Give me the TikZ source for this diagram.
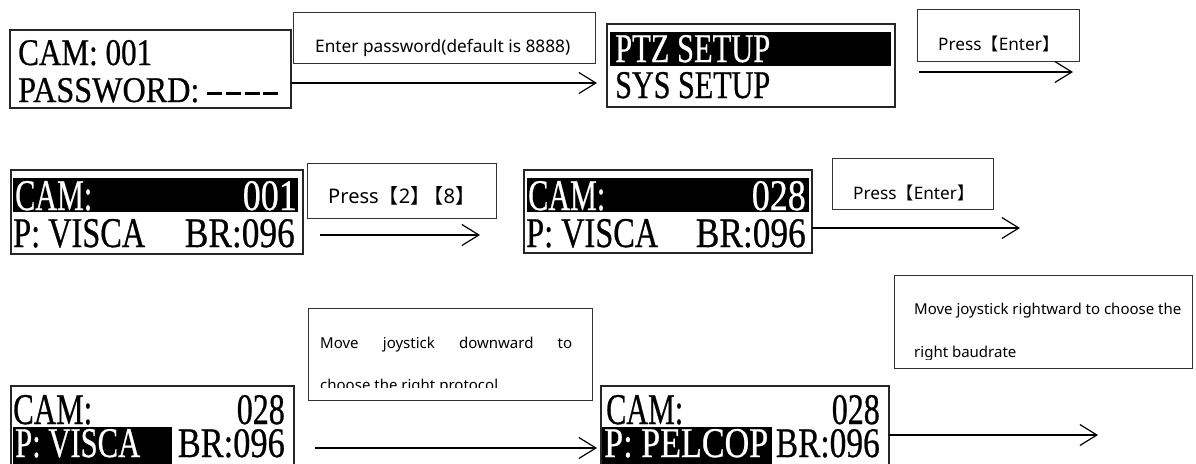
\documentclass[tikz,border=0pt]{standalone}
\usepackage{fontspec}
\usepackage{graphicx}
\usetikzlibrary{arrows.meta}
\setmainfont{Noto Sans}
\newfontfamily\lcdfont[FakeBold=0.7]{Liberation Serif}
\newfontfamily\cjk{Noto Sans CJK SC}
\newcommand{\lcdtxt}[3]{\resizebox{#1pt}{#2pt}{\lcdfont #3}}
\newcommand{\fitw}[2]{\resizebox{#1pt}{!}{#2}}
\newcommand{\lcddash}{\rule[0.2em]{0.46em}{0.07em}}
\begin{document}
\begin{tikzpicture}[x=1pt,y=-1pt,
  lcdbox/.style={draw=black!85, line width=2.4pt, fill=white, anchor=north west, inner sep=0pt, outer sep=0pt},
  hl/.style={fill=black, anchor=north west, inner sep=0pt, outer sep=0pt},
  lt/.style={inner sep=0pt, anchor=base west},
  lr/.style={inner sep=0pt, anchor=base east},
  note/.style={draw=black!80, line width=0.9pt, anchor=north west, inner sep=0pt, outer sep=0pt},
  ntext/.style={inner sep=0pt, anchor=base west, text=black, font=\fontsize{15}{18}\selectfont},
  flow/.style={line width=1.6pt, -{Straight Barb[length=17pt,width=21pt,line width=1.2pt]}}]
\useasboundingbox (0,0) rectangle (1196,463);
\clip (0,0) rectangle (1196,463);
\fill[white] (0,0) rectangle (1196,463);

% ---------- row 1 ----------
\node[lcdbox, minimum width=281pt, minimum height=78pt] (lcd1) at (10,30) {};
\node[lt] (l1a) at (18,65) {\lcdtxt{134}{25}{CAM: 001}};
\node[lt] (l1b) at (18,102) {\lcdtxt{260}{24}{PASSWORD: \lcddash\kern0.12em\lcddash\kern0.12em\lcddash\kern0.12em\lcddash}};

\node[note, minimum width=302pt, minimum height=51pt] (t1) at (293,12) {};
\node[ntext] (n1) at (315,52) {\fitw{255}{Enter password(default is 8888)}};

\node[lcdbox, minimum width=288pt, minimum height=83pt] (lcd2) at (607,24) {};
\node[hl, minimum width=281pt, minimum height=34pt] (hl2) at (610,32) {};
\node[lt, text=white] (l2a) at (615,62) {\lcdtxt{155}{27}{PTZ SETUP}};
\node[lt] (l2b) at (615,98) {\lcdtxt{155}{26}{SYS SETUP}};

\node[note, minimum width=162pt, minimum height=52pt] (t2) at (917,9) {};
\node[ntext] (n2) at (938,50) {\fitw{121}{Press{\cjk 【}Enter{\cjk 】}}};

\coordinate (a1s) at (lcd1.east |- 0,83);
\coordinate (a1e) at ([xshift=-10pt]lcd2.west |- a1s);
\draw[flow] (a1s) -- (a1e);
\coordinate (a2s) at (919,72);
\coordinate (a2e) at (1073,72);
\draw[flow] (a2s) -- (a2e);

% ---------- row 2 ----------
\node[lcdbox, minimum width=292pt, minimum height=84pt] (lcd3) at (11,170) {};
\node[hl, minimum width=285pt, minimum height=34pt] (hl3) at (13,178) {};
\node[lt, text=white] (l3a) at (15,210) {\lcdtxt{77}{29}{CAM:}};
\node[lr, text=white] (l3b) at (297,210) {\lcdtxt{54}{29}{001}};
\node[lt] (l3c) at (13,247) {\lcdtxt{132}{28}{P: VISCA}};
\node[lr] (l3d) at (295,247) {\lcdtxt{110}{28}{BR:096}};

\node[note, minimum width=189pt, minimum height=55pt] (t3) at (307,163) {};
\node[ntext] (n3) at (328,203) {\fitw{147}{Press{\cjk 【}2{\cjk 】\kern-0.35em【}8{\cjk 】}}};

\node[lcdbox, minimum width=288pt, minimum height=83pt] (lcd4) at (524,170) {};
\node[hl, minimum width=282pt, minimum height=34pt] (hl4) at (527,178) {};
\node[lt, text=white] (l4a) at (528,210) {\lcdtxt{77}{29}{CAM:}};
\node[lr, text=white] (l4b) at (806,210) {\lcdtxt{54}{29}{028}};
\node[lt] (l4c) at (526,247) {\lcdtxt{132}{28}{P: VISCA}};
\node[lr] (l4d) at (806,247) {\lcdtxt{110}{28}{BR:096}};

\node[note, minimum width=161pt, minimum height=51pt] (t4) at (832,158) {};
\node[ntext] (n4) at (853,199) {\fitw{121}{Press{\cjk 【}Enter{\cjk 】}}};

\coordinate (a3s) at (320,235);
\coordinate (a3e) at (480,235);
\draw[flow] (a3s) -- (a3e);
\coordinate (a4s) at (lcd4.east |- 0,228);
\coordinate (a4e) at (1020,228);
\draw[flow] (a4s) -- (a4e);

% ---------- row 3 ----------
\node[lcdbox, minimum width=283pt, minimum height=90pt] (lcd5) at (11,386) {};
\node[hl, minimum width=159pt, minimum height=40pt] (hl5) at (13,427) {};
\node[lt] (l5a) at (13,424) {\lcdtxt{79}{29}{CAM:}};
\node[lr] (l5b) at (285,424) {\lcdtxt{48}{29}{028}};
\node[lt, text=white] (l5c) at (15,457) {\lcdtxt{125}{28}{P: VISCA}};
\node[lr] (l5d) at (285,457) {\lcdtxt{107}{28}{BR:096}};

\node[note, minimum width=284pt, minimum height=92pt] (t5) at (308,308) {};
\node[ntext] (n5a) at (320,348) {\makebox[252pt][s]{Move joystick downward to}};
\begin{scope}
  \clip (t5.north west) rectangle (t5.east |- 0,387.5);
  \node[ntext] (n5b) at (320,390) {choose the right protocol};
\end{scope}

\node[lcdbox, minimum width=288pt, minimum height=90pt] (lcd6) at (601,386) {};
\node[hl, minimum width=170pt, minimum height=40pt] (hl6) at (602,427) {};
\node[lt] (l6a) at (606,424) {\lcdtxt{77}{29}{CAM:}};
\node[lr] (l6b) at (880,424) {\lcdtxt{48}{29}{028}};
\node[lt, text=white] (l6c) at (604,457) {\lcdtxt{164}{28}{P: PELCOP}};
\node[lr] (l6d) at (880,457) {\lcdtxt{104}{28}{BR:096}};

\node[note, minimum width=298pt, minimum height=93pt] (t6) at (894,275) {};
\node[ntext] (n6a) at (914,314) {Move joystick rightward to choose the};
\begin{scope}
  \clip (t6.north west) rectangle (t6.east |- 0,359);
  \node[ntext] (n6b) at (914,357) {right baudrate};
\end{scope}

\coordinate (a5s) at (315,448);
\coordinate (a5e) at ([xshift=-4pt]lcd6.west |- a5s);
\draw[flow] (a5s) -- (a5e);
\coordinate (a6s) at (lcd6.east |- 0,435);
\coordinate (a6e) at (1098,435);
\draw[flow] (a6s) -- (a6e);
\end{tikzpicture}
\end{document}
